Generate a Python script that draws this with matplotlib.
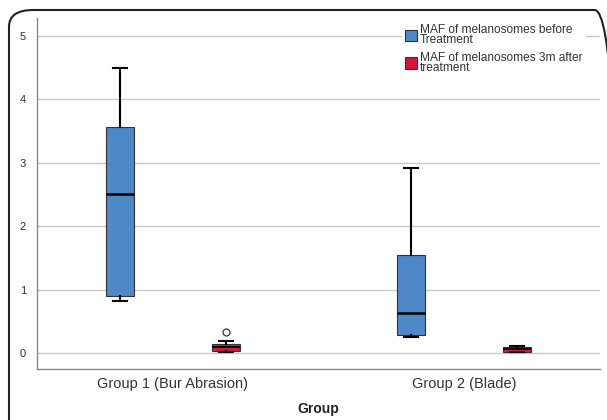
import matplotlib
matplotlib.use("Agg")
import matplotlib.pyplot as plt
from matplotlib.patches import FancyBboxPatch, Patch

plt.rcParams['font.family'] = ['Liberation Sans', 'DejaVu Sans']

groups = ["Group 1 (Bur Abrasion)", "Group 2 (Blade)"]
series = ["MAF of melanosomes before\nTreatment", "MAF of melanosomes 3m after\ntreatment"]
colors = ["#4f88c6", "#d6163c"]

# five-number summaries per group: [before, after]
whislo = [[0.82, 0.02], [0.25, 0.02]]
q1 = [[0.90, 0.03], [0.28, 0.02]]
med = [[2.50, 0.09], [0.63, 0.06]]
q3 = [[3.57, 0.15], [1.55, 0.10]]
whishi = [[4.50, 0.19], [2.91, 0.11]]
fliers = [[[], [0.33]], [[], []]]

W, H = 607, 420
fig = plt.figure(figsize=(W / 100, H / 100), dpi=100)
ax = fig.add_axes([37 / W, 1 - 369 / H, (600 - 37) / W, (369 - 18) / H])

offset = 0.182
width = 0.096
for g in range(len(groups)):
    for s in range(len(series)):
        stats = [dict(whislo=whislo[g][s], q1=q1[g][s], med=med[g][s],
                      q3=q3[g][s], whishi=whishi[g][s], fliers=fliers[g][s])]
        pos = g + 1 + (-offset if s == 0 else offset)
        ax.bxp(stats, positions=[pos], widths=width, patch_artist=True,
               showfliers=True,
               boxprops=dict(facecolor=colors[s], edgecolor="#333333", linewidth=0.8),
               medianprops=dict(color="black", linewidth=1.8 if s == 0 else 1.3),
               whiskerprops=dict(color="black", linewidth=1.5),
               capprops=dict(color="black", linewidth=1.5),
               capwidths=width * 0.5,
               flierprops=dict(marker="o", markersize=5, markerfacecolor="white",
                               markeredgecolor="#444444", markeredgewidth=1.0),
               manage_ticks=False, zorder=3)

ax.set_xlim(0.534, 2.468)
ax.set_ylim(-0.25, 5.28)
ax.set_xticks([1, 2])
ax.set_xticklabels(groups, fontsize=10.5, color="#333333")
ax.set_yticks([0, 1, 2, 3, 4, 5])
ax.set_yticklabels(["0", "1", "2", "3", "4", "5"], fontsize=8, color="#333333")
ax.tick_params(axis="y", length=0, pad=8)
ax.tick_params(axis="x", length=0, pad=6)
ax.yaxis.grid(True, color="#c8c8c8", linewidth=1)
ax.set_axisbelow(True)
for side in ["top", "right"]:
    ax.spines[side].set_visible(False)
for side in ["left", "bottom"]:
    ax.spines[side].set_color("#888888")
    ax.spines[side].set_linewidth(1)

fig.text(318.5 / W, 1 - 409 / H, "Group", fontsize=10, fontweight="bold",
         color="#222222", ha="center", va="center")

handles = [Patch(facecolor=c, edgecolor="#333333", linewidth=0.8) for c in colors]
leg = ax.legend(handles, series, loc="upper right", bbox_to_anchor=(0.986, 1.01),
                fontsize=8.6, frameon=True, fancybox=False, edgecolor="none",
                facecolor="white", framealpha=1, handlelength=1.0, handleheight=1.1,
                handletextpad=0.25, labelspacing=0.45, borderpad=0.3)
for t in leg.get_texts():
    t.set_linespacing(0.8)
    t.set_color("#333333")

frame = FancyBboxPatch((9 / W, -20 / H), (598 + 12) / W, (H - 10 + 20) / H,
                       boxstyle="round,pad=0,rounding_size=0.04",
                       transform=fig.transFigure, facecolor="none",
                       edgecolor="#222222", linewidth=1.5, clip_on=False)
fig.patches.append(frame)

fig.savefig("out.png", dpi=100)
